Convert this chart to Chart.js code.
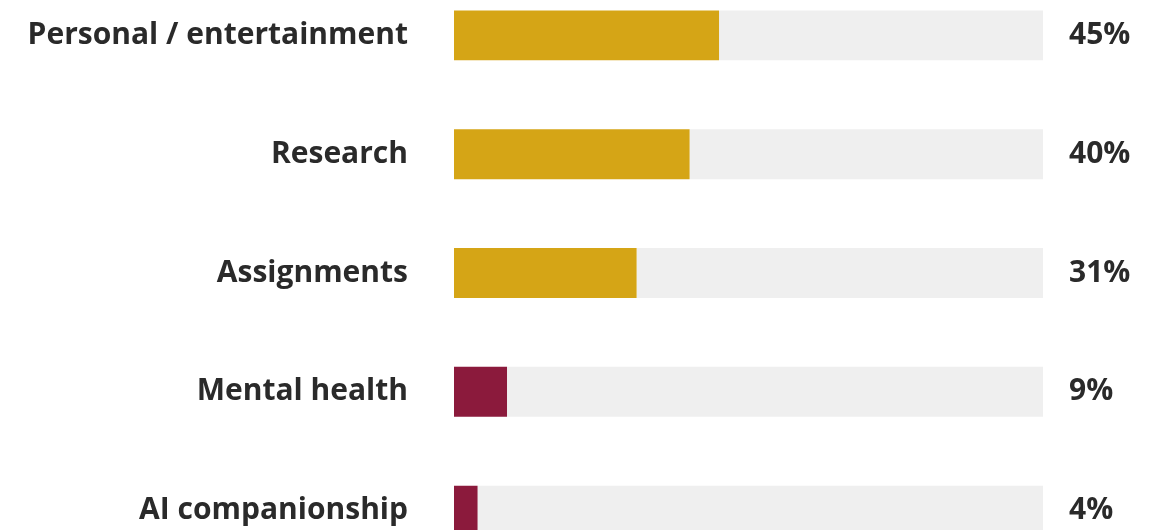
<!DOCTYPE html>
<html>
<head>
<meta charset="utf-8">
<script src="https://cdn.jsdelivr.net/npm/chart.js@4.4.0/dist/chart.umd.min.js"></script>
<style>
  html, body { margin: 0; padding: 0; background: #fff; overflow: hidden; }
  #usechart { position: absolute; left: 0; top: -24px; }
</style>
</head>
<body>
<canvas id="usechart" width="1159" height="594"></canvas>
<script>
var categorie = ['Personal / entertainment', 'Research', 'Assignments', 'Mental health', 'AI companionship'];
var valori = [45, 40, 31, 9, 4];
var colori = ['#d5a516', '#d5a516', '#d5a516', '#8b1a3c', '#8b1a3c'];

// the grey track fills the rest of each row up to 100%
var resto = valori.map(function(v) { return 100 - v; });

// percent text to the right of each track
var etichette = {
  id: 'etichette',
  afterDatasetsDraw: function(chart) {
    var ctx = chart.ctx;
    var meta = chart.getDatasetMeta(0);
    ctx.save();
    ctx.font = 'bold 30px "Open Sans"';
    ctx.fillStyle = '#2a2a2a';
    ctx.textAlign = 'left';
    ctx.textBaseline = 'middle';
    meta.data.forEach(function(bar, i) {
      ctx.fillText(valori[i] + '%', chart.chartArea.right + 26, bar.y);
    });
    ctx.restore();
  }
};

var chart = new Chart(document.getElementById('usechart'), {
  type: 'bar',
  data: {
    labels: categorie,
    datasets: [{
      data: valori,
      backgroundColor: colori,
      categoryPercentage: 1,
      barPercentage: 0.42
    }, {
      data: resto,
      backgroundColor: '#efefef',
      categoryPercentage: 1,
      barPercentage: 0.42
    }]
  },
  options: {
    indexAxis: 'y',
    responsive: false,
    animation: false,
    layout: { padding: { left: 0, right: 116, top: 0, bottom: 0 } },
    plugins: {
      legend: { display: false },
      tooltip: { enabled: false }
    },
    scales: {
      x: {
        stacked: true,
        min: 0,
        max: 100,
        display: false
      },
      y: {
        stacked: true,
        grid: { display: false },
        border: { display: false },
        ticks: {
          padding: 38,
          color: '#2a2a2a',
          font: { family: 'Open Sans', size: 30, weight: 'bold' }
        },
        afterFit: function(scale) {
          // tick padding is only meant horizontally here
          scale.width = 454;
          scale.paddingTop = 0;
          scale.paddingBottom = 0;
        }
      }
    }
  },
  plugins: [etichette]
});
</script>
</body>
</html>
